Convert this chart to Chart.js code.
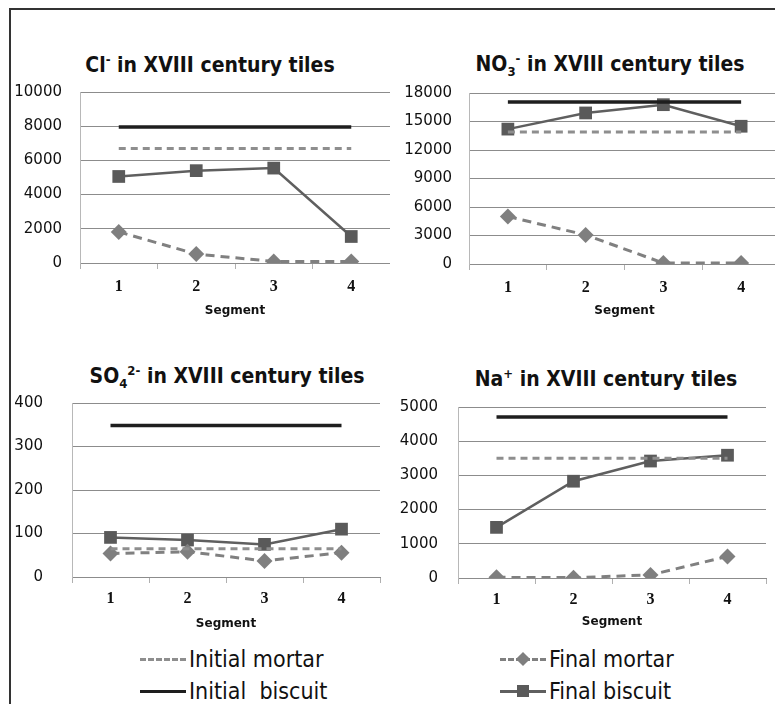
<!DOCTYPE html>
<html>
<head>
<meta charset="utf-8">
<script src="https://cdn.jsdelivr.net/npm/chart.js@4/dist/chart.umd.min.js"></script>
<style>
  html, body { margin: 0; padding: 0; background: #fff; }
  body { width: 775px; height: 704px; position: relative; overflow: hidden; }
  .frame { position: absolute; left: 9px; top: 8px; width: 800px; height: 800px;
           border-top: 2px solid #333; border-left: 2px solid #333; }
  .box { position: absolute; width: 390px; height: 250px; }
  .title { position: absolute; transform: translate(-50%, -50%); white-space: nowrap;
           font-family: "Liberation Sans Narrow", "DejaVu Sans Condensed", "Open Sans", sans-serif;
           font-weight: bold; font-size: 21px; color: #111; }
  .title sup, .title sub { font-size: 13px; }
  .leg { position: absolute; display: flex; align-items: center; white-space: pre;
         font-family: "Liberation Sans Narrow", "DejaVu Sans Condensed", "Open Sans", sans-serif;
         font-size: 23px; color: #111; transform: translateY(-50%); }
  .sw { position: relative; width: 46px; height: 14px; margin-right: 3px; }
  .sw .ln { position: absolute; left: 0; right: 0; top: 6px; height: 0; }
  .sw .mk { position: absolute; left: 50%; top: 50%; transform: translate(-50%, -50%); }
</style>
</head>
<body>
<div class="frame"></div>

<div class="title" style="left:210px; top:64px;">Cl<sup>-</sup> in XVIII century tiles</div>
<div class="title" style="left:610px; top:65px;">NO<sub>3</sub><sup>-</sup> in XVIII century tiles</div>
<div class="title" style="left:227px; top:377px;">SO<sub>4</sub><sup>2-</sup> in XVIII century tiles</div>
<div class="title" style="left:606px; top:378px;">Na<sup>+</sup> in XVIII century tiles</div>

<div class="box" style="left:0; top:80px;"><canvas id="clChart"></canvas></div>
<div class="box" style="left:390px; top:80px;"><canvas id="no3Chart"></canvas></div>
<div class="box" style="left:0; top:390px;"><canvas id="so4Chart"></canvas></div>
<div class="box" style="left:390px; top:390px;"><canvas id="naChart"></canvas></div>

<div class="leg" style="left:140px; top:659px;">
  <div class="sw"><div class="ln" style="border-top:3px dashed #8e8e8e;"></div></div>Initial mortar</div>
<div class="leg" style="left:500px; top:659px;">
  <div class="sw"><div class="ln" style="border-top:3px dashed #808080;"></div>
    <div class="mk" style="width:10px;height:10px;background:#7f7f7f;transform:translate(-50%,-50%) rotate(45deg);"></div></div>Final mortar</div>
<div class="leg" style="left:140px; top:691px;">
  <div class="sw"><div class="ln" style="border-top:3px solid #1e1e1e;"></div></div>Initial  biscuit</div>
<div class="leg" style="left:500px; top:691px;">
  <div class="sw"><div class="ln" style="border-top:3px solid #5f5f5f;"></div>
    <div class="mk" style="width:12px;height:12px;background:#5a5a5a;"></div></div>Final biscuit</div>

<script>
const segments = ['1', '2', '3', '4'];

// Cl-
const clInitialMortar = [6700, 6700, 6700, 6700];
const clInitialBiscuit = [7950, 7950, 7950, 7950];
const clFinalMortar = [1820, 520, 90, 90];
const clFinalBiscuit = [5060, 5400, 5550, 1550];

// NO3-
const no3InitialMortar = [13900, 13900, 13900, 13900];
const no3InitialBiscuit = [17050, 17050, 17050, 17050];
const no3FinalMortar = [5000, 3060, 100, 100];
const no3FinalBiscuit = [14200, 15900, 16770, 14500];

// SO4 2-
const so4InitialMortar = [65, 65, 65, 65];
const so4InitialBiscuit = [348, 348, 348, 348];
const so4FinalMortar = [54, 58, 37, 56];
const so4FinalBiscuit = [91, 85, 75, 110];

// Na+
const naInitialMortar = [3500, 3500, 3500, 3500];
const naInitialBiscuit = [4710, 4710, 4710, 4710];
const naFinalMortar = [20, 10, 90, 630];
const naFinalBiscuit = [1480, 2830, 3420, 3590];

const gridColor = '#8c8c8c';

// Build one panel; box gives where the plot area sits inside its canvas
const createPanel = (canvasId, series, yMax, yStep, box) => {
  const canvas = document.getElementById(canvasId);
  const context = canvas.getContext('2d');

  return new Chart(context, {
    type: 'line',
    data: {
      labels: segments,
      datasets: [
        {
          label: 'Initial mortar',
          data: series[0],
          borderColor: '#8e8e8e',
          borderWidth: 3,
          borderDash: [7, 5],
          pointRadius: 0,
        },
        {
          label: 'Initial biscuit',
          data: series[1],
          borderColor: '#1e1e1e',
          borderWidth: 3.5,
          pointRadius: 0,
        },
        {
          label: 'Final mortar',
          data: series[2],
          borderColor: '#808080',
          borderWidth: 3,
          borderDash: [9, 6],
          pointStyle: 'rectRot',
          pointRadius: 8,
          pointBackgroundColor: '#7f7f7f',
          pointBorderWidth: 0,
        },
        {
          label: 'Final biscuit',
          data: series[3],
          borderColor: '#5f5f5f',
          borderWidth: 2.5,
          pointStyle: 'rect',
          pointRadius: 9,
          pointBackgroundColor: '#5a5a5a',
          pointBorderWidth: 0,
        },
      ],
    },
    options: {
      responsive: true,
      maintainAspectRatio: false,
      animation: false,
      layout: {
        autoPadding: false,
        padding: { top: box.top, right: box.right, left: 0, bottom: 0 },
      },
      scales: {
        x: {
          offset: true,
          grid: {
            offset: true,
            drawOnChartArea: false,
            tickLength: 6,
            color: '#b0b0b0',
          },
          border: { color: gridColor },
          ticks: {
            padding: box.xPad,
            color: '#111',
            font: { family: 'Liberation Serif', weight: 'bold', size: 16 },
          },
          title: {
            display: true,
            text: 'Segment',
            color: '#111',
            padding: { top: 0, bottom: box.titlePad },
            font: { family: 'DejaVu Sans', weight: 'bold', size: 12 },
          },
          afterFit: (scale) => { scale.height = box.xHeight; },
        },
        y: {
          min: 0,
          max: yMax,
          // invisible tick marks give the gap between labels and axis
          grid: { color: gridColor, drawTicks: true, tickLength: box.yGap, tickColor: 'rgba(0,0,0,0)' },
          border: { color: '#b8b8b8' },
          ticks: {
            stepSize: yStep,
            padding: 0,
            color: '#111',
            font: { family: 'DejaVu Sans', size: 15 },
            callback: (value) => String(value),
          },
          afterFit: (scale) => { scale.width = box.yWidth; },
        },
      },
      plugins: {
        legend: { display: false },
        tooltip: { enabled: false },
      },
    },
  });
};

createPanel('clChart', [clInitialMortar, clInitialBiscuit, clFinalMortar, clFinalBiscuit], 10000, 2000,
  { top: 12, right: 0, xHeight: 67, yWidth: 80, yGap: 18, xPad: 8, titlePad: 12 });
createPanel('no3Chart', [no3InitialMortar, no3InitialBiscuit, no3FinalMortar, no3FinalBiscuit], 18000, 3000,
  { top: 13, right: 0, xHeight: 66, yWidth: 79, yGap: 17, xPad: 8, titlePad: 12 });
createPanel('so4Chart', [so4InitialMortar, so4InitialBiscuit, so4FinalMortar, so4FinalBiscuit], 400, 100,
  { top: 13, right: 10, xHeight: 63, yWidth: 72, yGap: 29, xPad: 6, titlePad: 9 });
createPanel('naChart', [naInitialMortar, naInitialBiscuit, naFinalMortar, naFinalBiscuit], 5000, 1000,
  { top: 17, right: 14, xHeight: 62, yWidth: 68, yGap: 20, xPad: 6, titlePad: 11 });
</script>
</body>
</html>
